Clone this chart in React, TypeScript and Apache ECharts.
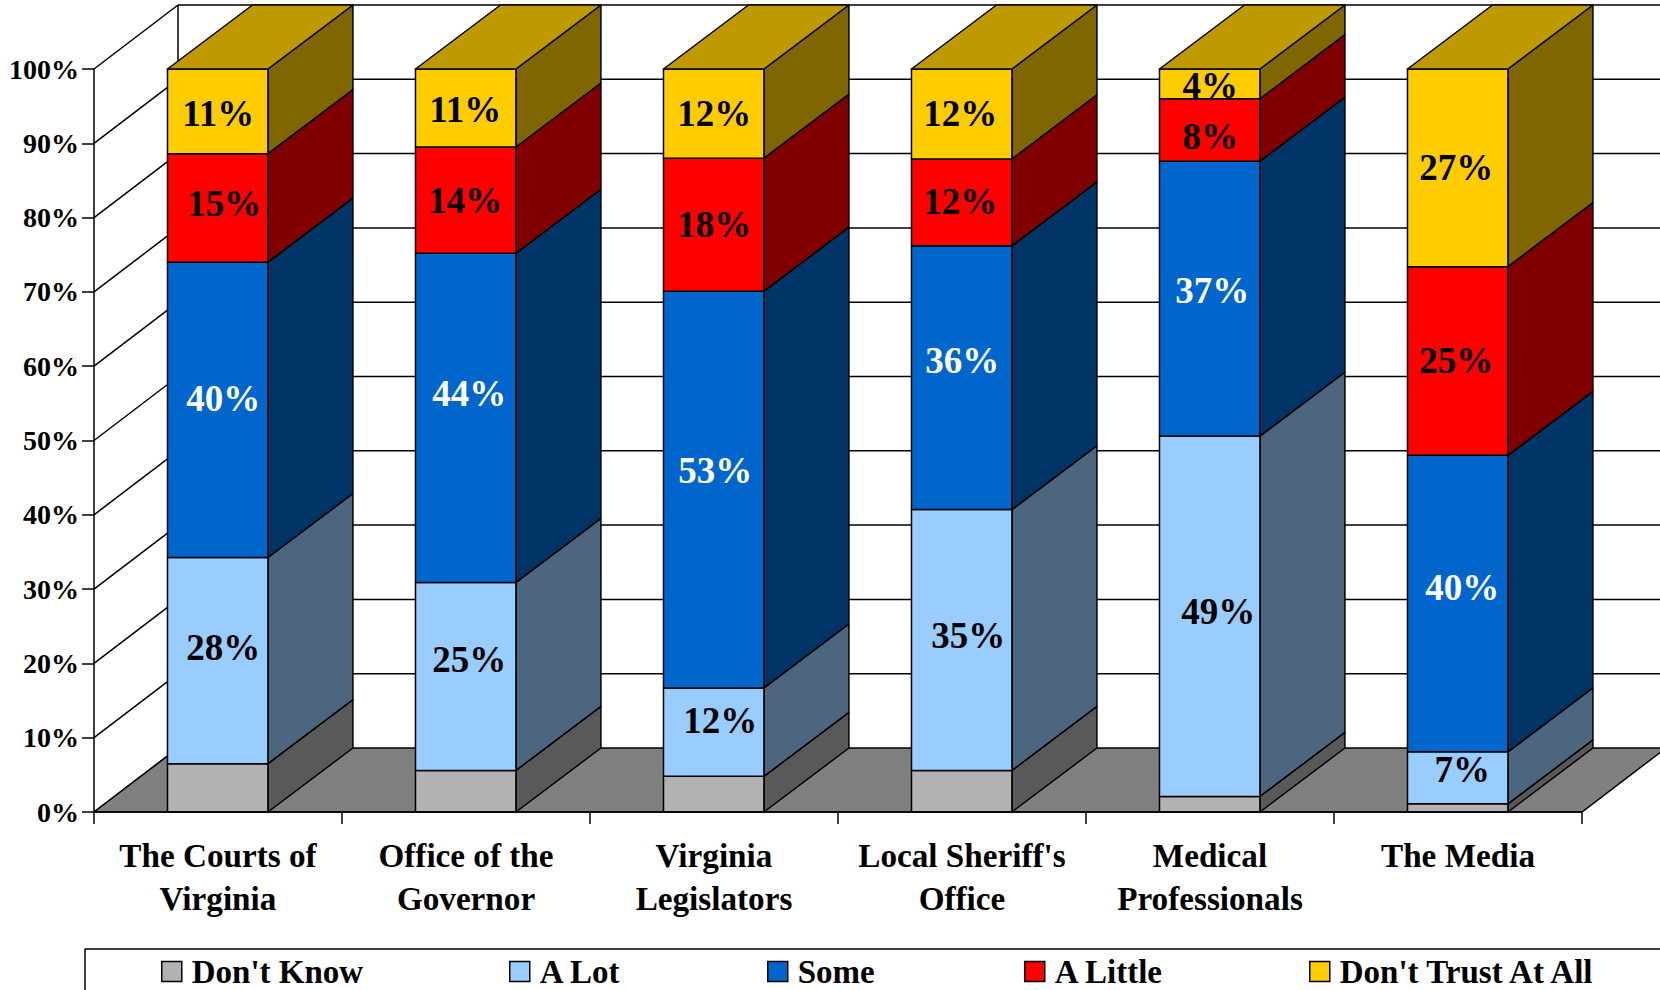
import React, { useEffect, useRef } from "react";
import * as echarts from "echarts";

const categories = [
  "The Courts of\nVirginia",
  "Office of the\nGovernor",
  "Virginia\nLegislators",
  "Local Sheriff's\nOffice",
  "Medical\nProfessionals",
  "The Media",
];
const seriesNames = ["Don't Know", "A Lot", "Some", "A Little", "Don't Trust At All"];

const dontKnow = [6.5, 5.6, 4.8, 5.6, 2.1, 1.1];
const aLot = [27.75, 25.3, 11.9, 35.1, 48.5, 7.0];
const some = [39.75, 44.3, 53.4, 35.5, 37.0, 39.9];
const aLittle = [14.6, 14.3, 17.9, 11.7, 8.4, 25.4];
const dontTrust = [11.4, 10.5, 12.0, 12.1, 4.0, 26.6];
const yTicks = [0, 10, 20, 30, 40, 50, 60, 70, 80, 90, 100];

const FONT = '"Liberation Serif", "Times New Roman", serif';
const STROKE = "#000";
const LINE = 1.5;
const BAR_DX = 85;
const WALL_DX = 84;
const DEPTH_Y = 64;
const BAR_RATIO = 0.405;

const frontColors = ["#B2B2B2", "#99CCFF", "#0066CC", "#FF0000", "#FFCC00"];
const sideColors = ["#595959", "#4D6680", "#003366", "#800000", "#806600"];
const topColor = "#BF9900";
const floorColor = "#808080";
const labelColors = ["", "#000", "#fff", "#000", "#000"];
const legendLeft = [161, 509, 767, 1024, 1309];

// hand-placed label offsets of the original, in pixels from each segment's centre
const labelShiftX = [
  [0, 0, 0, 0, 0, 0],
  [5.5, 3.5, 6.5, 6.5, 8.5, 4.5],
  [5.5, 3.5, 1.5, 0.5, 2.5, 4.5],
  [6.5, -0.5, 0.5, -1.5, 0.5, -1.5],
  [0.5, -0.5, 0.5, -1.5, 0.5, -1.5],
];
const labelShiftY = [
  [0, 0, 0, 0, 0, 0],
  [-13.5, -17, -12, -4, -5, -8],
  [-11.5, -24, -19, -17, -8, -16],
  [-4, 0, 0, -1, 6.5, 0],
  [2, 1, 0, 0, 1.5, 0],
];

const seriesValues = [dontKnow, aLot, some, aLittle, dontTrust];

function stackRows(idx: number) {
  return categories.map((_, c) => {
    let start = 0;
    for (let s = 0; s < idx; s++) start += seriesValues[s][c];
    const value = seriesValues[idx][c];
    return [c, start, start + value, value];
  });
}

function wallItem(params: any, api: any) {
  const v = api.value(1);
  const y = api.coord([0, v])[1];
  const cs = params.coordSys;
  const x0 = cs.x;
  const x1 = cs.x + cs.width;
  const style = { stroke: STROKE, lineWidth: LINE, fill: "none" };
  const children: any[] = [
    {
      type: "line",
      shape: { x1: x0, y1: y, x2: x0 + WALL_DX, y2: y - DEPTH_Y },
      style,
    },
  ];
  if (v === 0) {
    children.push({
      type: "polygon",
      shape: {
        points: [
          [x0, y],
          [x0 + WALL_DX, y - DEPTH_Y],
          [x1 + WALL_DX, y - DEPTH_Y],
          [x1, y],
        ],
      },
      style: { fill: floorColor, stroke: STROKE, lineWidth: LINE },
    });
    const yTop = api.coord([0, 100])[1];
    children.push({
      type: "line",
      shape: { x1: x0 + WALL_DX, y1: y - DEPTH_Y, x2: x0 + WALL_DX, y2: yTop - DEPTH_Y },
      style,
    });
  } else {
    children.push({
      type: "line",
      shape: { x1: x0 + WALL_DX, y1: y - DEPTH_Y, x2: x1 + WALL_DX, y2: y - DEPTH_Y },
      style,
    });
  }
  return { type: "group", children };
}

function barItem(idx: number) {
  return (params: any, api: any) => {
    const c = api.value(0);
    const lo = api.coord([c, api.value(1)]);
    const hi = api.coord([c, api.value(2)]);
    const w = api.size([1, 0])[0] * BAR_RATIO;
    const l = lo[0] - w / 2 - 0.3;
    const r = l + w;
    const face = (points: number[][], fill: string) => ({
      type: "polygon",
      shape: { points },
      style: { fill, stroke: STROKE, lineWidth: LINE, lineJoin: "round" },
    });
    const children: any[] = [
      face(
        [
          [r, lo[1]],
          [r + BAR_DX, lo[1] - DEPTH_Y],
          [r + BAR_DX, hi[1] - DEPTH_Y],
          [r, hi[1]],
        ],
        sideColors[idx],
      ),
      face(
        [
          [l, lo[1]],
          [r, lo[1]],
          [r, hi[1]],
          [l, hi[1]],
        ],
        frontColors[idx],
      ),
    ];
    if (idx === seriesValues.length - 1) {
      children.push(
        face(
          [
            [l, hi[1]],
            [r, hi[1]],
            [r + BAR_DX, hi[1] - DEPTH_Y],
            [l + BAR_DX, hi[1] - DEPTH_Y],
          ],
          topColor,
        ),
      );
    }
    if (idx > 0) {
      children.push({
        type: "text",
        x: (l + r) / 2 + labelShiftX[idx][c],
        y: (lo[1] + hi[1]) / 2 + labelShiftY[idx][c],
        z2: 10,
        style: {
          text: `${Math.round(api.value(3))}%`,
          fill: labelColors[idx],
          font: `bold 37px ${FONT}`,
          align: "center",
          verticalAlign: "middle",
        },
      });
    }
    return { type: "group", children };
  };
}

export default function App() {
  const ref = useRef<HTMLDivElement>(null);

  useEffect(() => {
    const chart = echarts.init(ref.current!, undefined, { renderer: "svg" });
    chart.setOption({
      animation: false,
      backgroundColor: "#fff",
      grid: { left: 94, right: 78, top: 69, height: 743 },
      xAxis: {
        type: "category",
        data: categories,
        z: 8,
        axisLine: { show: true, lineStyle: { color: STROKE, width: LINE } },
        axisTick: { show: true, length: 12, lineStyle: { color: STROKE, width: LINE } },
        axisLabel: {
          interval: 0,
          margin: 22,
          color: "#000",
          fontFamily: FONT,
          fontWeight: "bold",
          fontSize: 33.2,
          lineHeight: 43,
          verticalAlign: "top",
        },
        splitLine: { show: false },
      },
      yAxis: {
        type: "value",
        min: 0,
        max: 100,
        interval: 10,
        z: 8,
        axisLine: { show: true, lineStyle: { color: STROKE, width: LINE } },
        axisTick: { show: true, length: 12, lineStyle: { color: STROKE, width: LINE } },
        axisLabel: {
          margin: 15,
          formatter: "{value}%",
          color: "#000",
          fontFamily: FONT,
          fontWeight: "bold",
          fontSize: 28,
          padding: [5, 0, 0, 0],
        },
        splitLine: { show: false },
      },
      legend: seriesNames.map((name, i) => ({
        data: [name],
        left: legendLeft[i],
        top: 955,
        itemWidth: 20,
        itemHeight: 20,
        icon: "rect",
        itemGap: 0,
        padding: 0,
        selectedMode: false,
        itemStyle: { color: frontColors[i], borderColor: STROKE, borderWidth: LINE },
        textStyle: {
          color: "#000",
          fontFamily: FONT,
          fontWeight: "bold",
          fontSize: 33,
          padding: [9, 0, 0, 5],
        },
      })),
      graphic: [
        {
          type: "rect",
          z: -1,
          shape: { x: 85, y: 949, width: 1700, height: 100 },
          style: { fill: "#fff", stroke: STROKE, lineWidth: LINE },
        },
      ],
      series: [
        {
          type: "custom",
          name: "walls",
          z: 1,
          silent: true,
          renderItem: wallItem,
          encode: { x: 0, y: 1 },
          data: yTicks.map((v) => [0, v]),
        },
        ...seriesNames.map((name, i) => ({
          type: "custom",
          name,
          z: 3 + i,
          itemStyle: { color: frontColors[i] },
          renderItem: barItem(i),
          encode: { x: 0, y: [1, 2] },
          data: stackRows(i),
        })),
      ],
    });
    return () => chart.dispose();
  }, []);

  return (
    <div
      ref={ref}
      style={{ position: "fixed", left: 0, top: 0, width: 1660, height: 990, overflow: "hidden" }}
    />
  );
}
